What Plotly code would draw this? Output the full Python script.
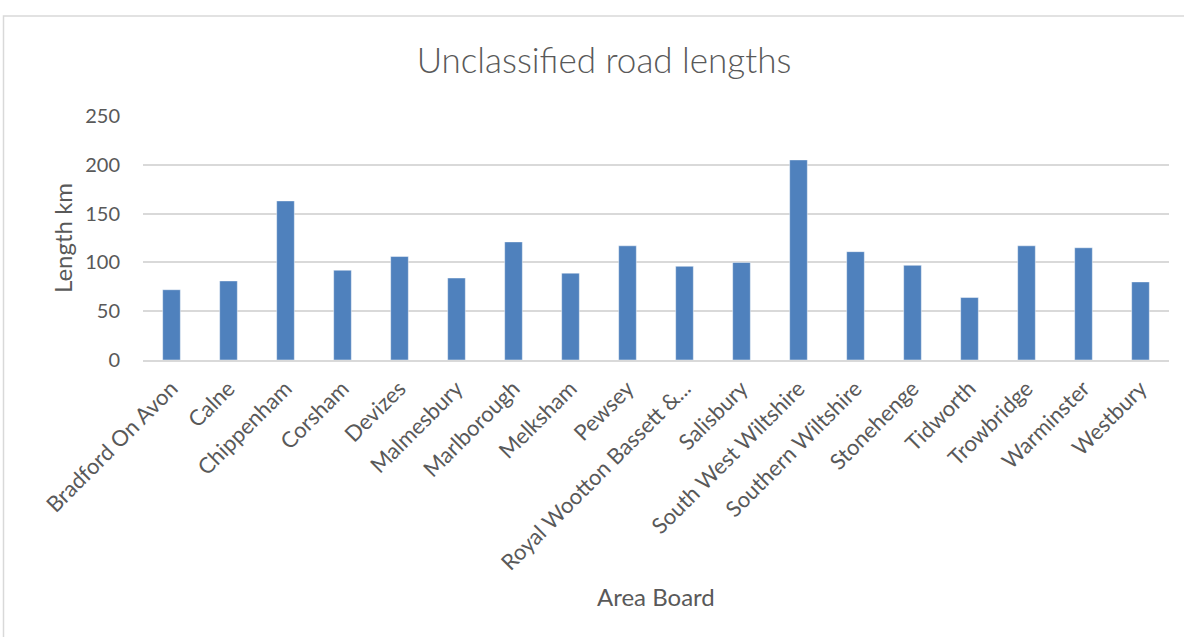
import plotly.graph_objects as go

# Area boards and unclassified road length (km)
areas = [
    "Bradford On Avon", "Calne", "Chippenham", "Corsham", "Devizes",
    "Malmesbury", "Marlborough", "Melksham", "Pewsey",
    "Royal Wootton Bassett &...", "Salisbury", "South West Wiltshire",
    "Southern Wiltshire", "Stonehenge", "Tidworth", "Trowbridge",
    "Warminster", "Westbury",
]
length_km = [72, 81, 163, 92, 106, 84, 121, 89, 117, 96, 100, 205,
             111, 97, 64, 117, 115, 80]

y_ticks = [0, 50, 100, 150, 200, 250]

TEXT = "#595959"
GRID = "#d9d9d9"
FONT = "Lato, 'Open Sans', sans-serif"

fig = go.Figure(
    go.Bar(
        x=areas,
        y=length_km,
        marker=dict(color="#4f81bd",
                    line=dict(color="rgba(255,255,255,0.45)", width=1)),
    )
)

W, H = 1184, 637
L, R, T, B = 143, 15, 116, 277
pw, ph = W - L - R, H - T - B

fig.update_layout(
    width=W, height=H,
    margin=dict(l=L, r=R, t=T, b=B),
    paper_bgcolor="white", plot_bgcolor="white",
    bargap=0.69,
    showlegend=False,
    font=dict(family=FONT, color=TEXT),
    title=dict(
        text="Unclassified road lengths",
        x=604 / W, xanchor="center",
        y=1 - 61 / H, yanchor="middle", yref="container",
        font=dict(size=35, color=TEXT, family=FONT, weight=300),
    ),
    xaxis=dict(
        tickangle=-45,
        tickfont=dict(size=22, color=TEXT),
        showgrid=False,
        showline=True, linecolor=GRID, linewidth=2,
        ticks="", ticklabelstandoff=5,
    ),
    yaxis=dict(
        range=[0, 250],
        tickvals=y_ticks,
        tickfont=dict(size=20, color=TEXT),
        showgrid=True, gridcolor=GRID, gridwidth=2,
        zeroline=False, showline=False,
        ticks="", ticklabelstandoff=22,
    ),
    annotations=[
        dict(text="Length km", xref="paper", yref="paper",
             x=(62 - L) / pw, y=0.5, xanchor="center", yanchor="middle",
             textangle=-90, showarrow=False,
             font=dict(size=24, color=TEXT)),
        dict(text="Area Board", xref="paper", yref="paper",
             x=0.5, y=(ph - (596 - T)) / ph, xanchor="center",
             yanchor="middle", showarrow=False,
             font=dict(size=24, color=TEXT)),
    ],
    shapes=[
        dict(type="rect", xref="paper", yref="paper",
             x0=(3.5 - L) / pw, x1=(W + 20 - L) / pw,
             y0=-(H + 20 - (T + ph)) / ph, y1=(T + ph - 16) / ph,
             line=dict(color=GRID, width=1.5), fillcolor="rgba(0,0,0,0)",
             layer="below"),
    ],
)

fig.write_html("out.html")
